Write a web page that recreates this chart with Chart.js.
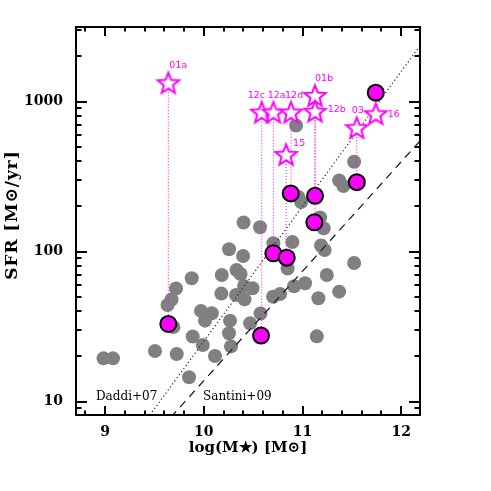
<!DOCTYPE html>
<html><head><meta charset="utf-8">
<script src="https://cdn.jsdelivr.net/npm/chart.js@4"></script>
<style>html,body{margin:0;padding:0;background:#fff;}#wrap{width:491px;height:491px;}</style>
</head><body><div id="wrap"><canvas id="c" width="491" height="491"></canvas></div>
<script>
// ---------- data ----------
const xTickValues = [9, 10, 11, 12];
const yTickValues = [10, 100, 1000];
const xTitle = 'log(M★) [M⊙]';
const yTitle = 'SFR [M⊙/yr]';

// grey comparison sample: log stellar mass, SFR
const sampleMass = [8.985, 9.081, 9.506, 9.726, 9.851, 9.878, 9.719, 9.674, 9.633, 9.692,
  9.888, 9.990, 9.972, 10.081, 10.013, 10.114, 10.182, 10.178, 10.256, 10.403,
  10.570, 10.398, 10.332, 10.373, 10.408, 10.494, 10.327, 10.413, 10.266, 10.469,
  10.256, 10.276, 10.575, 10.705, 10.897, 10.849, 10.702, 10.773, 10.915, 11.026,
  10.935, 11.523, 11.371, 11.414, 10.958, 10.986, 11.178, 11.214, 11.188, 11.224,
  11.523, 11.246, 11.371, 11.161, 11.145];
const sampleSFR = [19.4, 19.4, 21.7, 20.7, 14.5, 66.3, 56.7, 47.9, 44.0, 31.4,
  27.1, 23.8, 40.2, 38.8, 34.6, 20.1, 69.8, 52.4, 103.5, 156.2,
  145.1, 93.4, 75.3, 70.8, 58.9, 56.9, 51.3, 48.0, 34.6, 33.2,
  28.5, 23.3, 38.6, 113.5, 115.8, 77.1, 50.0, 52.1, 58.7, 61.4,
  692, 397, 298, 273.5, 231, 214, 168.7, 142.9, 109.7, 102.4,
  83.9, 69.8, 54.0, 48.8, 27.2];

// magenta host galaxies
const hostMass = [9.641, 10.580, 10.705, 10.840, 11.120, 10.881, 11.127, 11.550, 11.742];
const hostSFR  = [32.9, 27.5, 97.3, 91.0, 156.7, 244, 235, 290, 1146];

// stars (labelled sources)
const starNames = ['01a', '12c', '12a', '12d', '15', '01b', '12b', '03', '16'];
const starMass  = [9.641, 10.587, 10.705, 10.884, 10.834, 11.127, 11.127, 11.550, 11.742];
const starSFR   = [1324, 843, 843, 843, 440, 1089, 855, 664, 822];
const starHost  = [0, 1, 2, 5, 3, 6, 4, 7, 8];

// main-sequence relations (end points)
const daddiMass = [9.0, 12.5];
const daddiSFR  = [3.17, 4477];
const santiniMass = [9.0, 12.5];
const santiniSFR  = [2.56, 920];

// ---------- styles ----------
const MAGENTA = '#ff00ff';
const labelOffsets = {
  '01a': [1, -17.5], '12c': [-14, -17.5], '12a': [-5.6, -17.5], '12d': [-6, -17.5],
  '15': [7, -11.7], '01b': [0, -17], '12b': [12.7, -2.4], '03': [-5, -17.6], '16': [12, 0]
};

function makeStar() {
  const c = document.createElement('canvas');
  c.width = 30; c.height = 30;
  const g = c.getContext('2d');
  const R = 11.2, r = 4.8, cx = 15, cy = 15.5;
  g.beginPath();
  for (let i = 0; i < 10; i++) {
    const a = -Math.PI / 2 + i * Math.PI / 5;
    const rr = i % 2 ? r : R;
    g.lineTo(cx + rr * Math.cos(a), cy + rr * Math.sin(a));
  }
  g.closePath();
  g.fillStyle = '#fff'; g.fill();
  g.lineWidth = 2; g.strokeStyle = MAGENTA; g.stroke();
  return c;
}
const starImg = makeStar();

const pts = (xs, ys) => xs.map((v, i) => ({x: v, y: ys[i]}));

const datasets = [];
datasets.push({
  label: 'sample', data: pts(sampleMass, sampleSFR), showLine: false,
  pointRadius: 7, pointHoverRadius: 7, pointBackgroundColor: '#808080',
  pointBorderWidth: 0, order: 5
});
datasets.push({
  label: 'Daddi+07', data: pts(daddiMass, daddiSFR), showLine: true,
  pointRadius: 0, borderColor: '#222', borderWidth: 1.2, borderDash: [1.2, 2.6], order: 4
});
datasets.push({
  label: 'Santini+09', data: pts(santiniMass, santiniSFR), showLine: true,
  pointRadius: 0, borderColor: '#222', borderWidth: 1.3, borderDash: [8, 6], order: 4
});
starNames.forEach((n, i) => {
  datasets.push({
    label: 'link ' + n,
    data: [{x: starMass[i], y: starSFR[i]}, {x: starMass[i], y: hostSFR[starHost[i]]}],
    showLine: true, pointRadius: 0, borderColor: MAGENTA, borderWidth: 1,
    borderDash: [1, 2], order: 3
  });
});
datasets.push({
  label: 'hosts', data: pts(hostMass, hostSFR), showLine: false,
  pointRadius: 8, pointHoverRadius: 8, pointBackgroundColor: MAGENTA,
  pointBorderColor: '#000', pointBorderWidth: 2, order: 1
});
datasets.push({
  label: 'stars', data: pts(starMass, starSFR), showLine: false,
  pointStyle: starImg, pointRadius: 11, pointHoverRadius: 11, order: 0
});

const framePlugin = {
  id: 'frame',
  afterDatasetsDraw(chart) {
    const {ctx, chartArea: a, scales: {x, y}} = chart;
    ctx.save();
    // star labels
    ctx.fillStyle = MAGENTA;
    ctx.font = '9.5px "DejaVu Sans"';
    ctx.textBaseline = 'middle';
    ctx.textAlign = 'left';
    starNames.forEach((n, i) => {
      const px = x.getPixelForValue(starMass[i]);
      const py = y.getPixelForValue(starSFR[i]);
      const o = labelOffsets[n];
      ctx.fillText(n, px + o[0], py + o[1]);
    });
    // relation labels
    ctx.fillStyle = '#000';
    ctx.font = '12px "DejaVu Serif"';
    ctx.fillText('Daddi+07', a.left + 20, a.bottom - 18);
    ctx.fillText('Santini+09', a.left + 127, a.bottom - 18);
    ctx.restore();
  },
  afterDraw(chart) {
    const {ctx, chartArea: a, scales: {x, y}} = chart;
    ctx.save();
    ctx.strokeStyle = '#000';
    ctx.lineWidth = 2;
    ctx.strokeRect(a.left, a.top, a.right - a.left, a.bottom - a.top);
    ctx.beginPath();
    for (let k = 44; k <= 60; k++) {
      const v = k / 5;
      const px = Math.round(x.getPixelForValue(v));
      const len = (k % 5 === 0) ? 9 : 4.5;
      ctx.moveTo(px, a.bottom); ctx.lineTo(px, a.bottom - len);
      ctx.moveTo(px, a.top); ctx.lineTo(px, a.top + len);
    }
    for (let d = 0; d <= 3; d++) {
      for (let k = 1; k <= 9; k++) {
        const v = k * Math.pow(10, d);
        if (v < y.min || v > y.max) continue;
        const py = Math.round(y.getPixelForValue(v));
        const len = k === 1 ? 11 : 5.5;
        ctx.moveTo(a.left, py); ctx.lineTo(a.left + len, py);
        ctx.moveTo(a.right, py); ctx.lineTo(a.right - len, py);
      }
    }
    ctx.stroke();
    // y-axis title
    ctx.fillStyle = '#000';
    ctx.font = 'bold 17px "DejaVu Serif"';
    if ('letterSpacing' in ctx) ctx.letterSpacing = '1px';
    ctx.translate(13, (a.top + a.bottom) / 2 - 6);
    ctx.rotate(-Math.PI / 2);
    ctx.textAlign = 'center';
    ctx.textBaseline = 'middle';
    ctx.fillText(yTitle, 0, 0);
    ctx.restore();
  }
};

const tickFont = {family: '"DejaVu Serif"', weight: 'bold', size: 14};
const titleFont = {family: '"DejaVu Serif"', weight: 'bold', size: 15};

new Chart(document.getElementById('c'), {
  type: 'scatter',
  data: {datasets},
  options: {
    responsive: false, animation: false, devicePixelRatio: 1,
    layout: {padding: {top: 27, right: 71, bottom: 0, left: 0}},
    plugins: {legend: {display: false}, tooltip: {enabled: false}},
    events: [],
    scales: {
      x: {
        type: 'linear', min: 8.706, max: 12.19,
        grid: {display: false, drawTicks: false}, border: {display: false},
        ticks: {font: tickFont, color: '#000', padding: 9, maxRotation: 0, callback: v => String(v)},
        afterBuildTicks: s => { s.ticks = xTickValues.map(v => ({value: v})); },
        afterFit: s => { s.height = 76; },
        title: {display: true, text: xTitle, font: titleFont, color: '#000', padding: {top: 0, bottom: 34}}
      },
      y: {
        type: 'logarithmic', min: 8.13, max: 3140,
        grid: {display: false, drawTicks: false}, border: {display: false},
        ticks: {font: tickFont, color: '#000', padding: 13, callback: v => String(v)},
        afterBuildTicks: s => { s.ticks = yTickValues.map(v => ({value: v})); },
        afterFit: s => { s.width = 76; },
        title: {display: false}
      }
    }
  },
  plugins: [framePlugin]
});
</script>
</body></html>
